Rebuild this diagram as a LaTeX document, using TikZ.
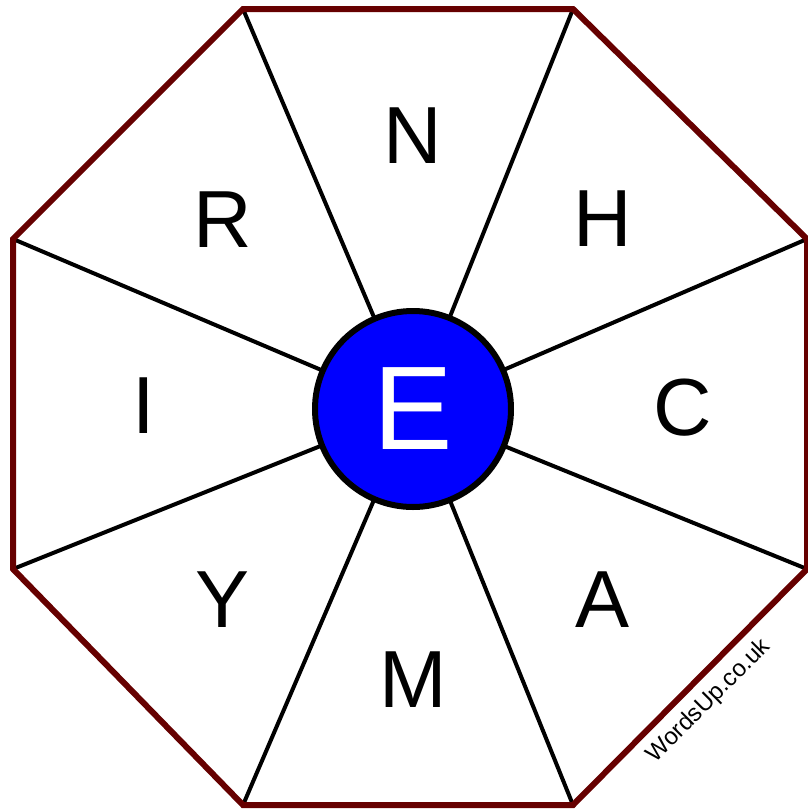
\documentclass[tikz,border=0pt]{standalone}
\usepackage{fontspec}
\setmainfont{Liberation Sans}
\usepackage{xcolor}
\definecolor{wuRim}{HTML}{660000}
\definecolor{wuBlue}{HTML}{0000FF}
\usetikzlibrary{positioning}

\begin{document}
\begin{tikzpicture}[
    x=1pt, y=-1pt,
    rim/.style={draw=wuRim, line width=6pt, line join=miter},
    spoke/.style={draw=black, line width=4pt},
    hubbox/.style={circle, draw=black, fill=wuBlue, line width=6pt, minimum size=196pt, inner sep=0pt, font=\fontsize{119}{119}\selectfont, text=white},
    letterbox/.style={inner sep=0pt, font=\fontsize{81}{81}\selectfont, text=black},
    tagbox/.style={inner sep=0pt, font=\fontsize{24}{24}\selectfont, text=black, rotate=45}
]
\useasboundingbox (0,0) rectangle (808,809);

% octagon corners
\coordinate (v1) at (243,9);
\coordinate (v2) at (573,9);
\coordinate (v3) at (807,239);
\coordinate (v4) at (807,569);
\coordinate (v5) at (573,805);
\coordinate (v6) at (243,805);
\coordinate (v7) at (13,569);
\coordinate (v8) at (13,239);

\coordinate (hubc) at (413,409);

\foreach \i in {1,...,8}
    \draw [spoke] (v\i) -- (hubc);

\draw [rim] (v1) -- (v2) -- (v3) -- (v4) -- (v5) -- (v6) -- (v7) -- (v8) -- cycle;

\node (hub) [hubbox] at (hubc) {E};

\node (lN) [letterbox] at (413,136) {N};
\node (lH) [letterbox] at (603,219) {H};
\node (lC) [letterbox] at (683,408) {C};
\node (lA) [letterbox] at (603,600) {A};
\node (lM) [letterbox] at (413,680) {M};
\node (lY) [letterbox] at (223,600) {Y};
\node (lI) [letterbox] at (144,406) {I};
\node (lR) [letterbox] at (223,220) {R};

\node (tag) [tagbox] at (709,701) {WordsUp.co.uk};

\end{tikzpicture}
\end{document}
